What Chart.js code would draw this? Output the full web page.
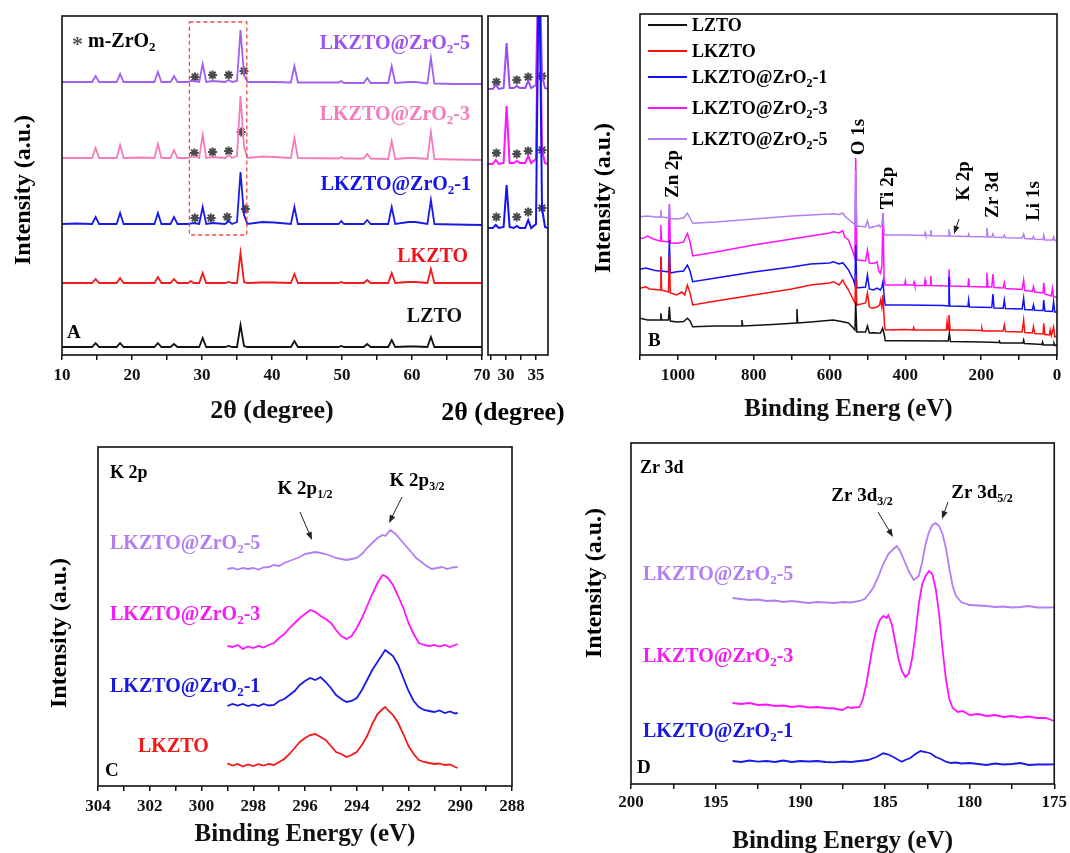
<!DOCTYPE html>
<html><head><meta charset="utf-8">
<script src="https://cdn.jsdelivr.net/npm/chart.js@4"></script>
<style>
html,body{margin:0;padding:0;background:#fff;}
#wrap{position:relative;width:1070px;height:853px;overflow:hidden;background:#fff;}
canvas{position:absolute;left:0;top:0;width:1070px;height:853px;}
</style></head><body><div id="wrap">
<canvas id="cA" width="1070" height="853"></canvas>
<canvas id="cI" width="1070" height="853"></canvas>
<canvas id="cB" width="1070" height="853"></canvas>
<canvas id="cC" width="1070" height="853"></canvas>
<canvas id="cD" width="1070" height="853"></canvas>
</div>
<script>
// ================= DATA =================
// Panel A : XRD (2θ, degree) — stacked patterns (offset included, a.u.)
const xrdTwoTheta = [10,12,14.3,14.8,15.3,17.8,18.3,18.8,21.5,23.2,23.7,24.2,25.5,26.0,26.5,28.0,28.4,28.8,29.6,30.1,30.6,31.5,33.3,33.8,34.3,35.0,35.5,36.0,36.5,38.6,40.3,42.7,43.2,43.7,49.5,49.9,50.3,53.1,53.6,54.1,56.6,57.1,57.6,59.5,60.5,62.2,62.7,63.2,66,70];
const xrdLZTO  = [8,8,8,12,8, 8,12,8,8,8, 12,8,8,11,8, 8,8,8,8,17, 8,8,8,9,8, 8,30,9,8,8, 8,8,14,8,8, 9,8,8,11,8, 8,15,8,8.5,8.5, 8,18,8,8,8];
const xrdLKZTO = [72,72,72,76,72, 72,77,72,72,72, 78,72,72,76,72, 72,74,72,72,82, 72,72,72,73,72, 72,102,73,72,72.5, 72.5,72,81,72,72, 73,72,72,75,72, 72,82,72,73,73, 72,86,72,72,72];
const xrdZr1   = [131,131.5,131,138,131, 131,142,131,131,131, 142,131,131,138,131, 131,131.5,132,131,148, 131,132,131,134,131, 133,183,140,131,133, 132.5,131,148,131,131, 134,131,131,135,131, 131,148,131,133,133, 131,155,131,130.5,130];
const xrdZr3   = [197,197,197,207,197, 197,210,197,197.5,197, 211,197,197,205,197, 197,198,199,197,220, 197,198,197,200,197, 199,259,208,197,198.5, 198,197,217,197,196.5, 198,196.5,196.5,201,196.5, 196,214,196,197,197, 196,223,196,195.5,195];
const xrdZr5   = [273,273,273,279,273, 273,281,273,273,273, 283,273,273,279,273, 273,274,274,273,291, 273,274,273,275,273, 274,325,280,273,273, 273,272.5,289,272.5,272.5, 274,272,272,277,272, 272,289,272,273,273, 271.5,297,271.5,271,271];
const starsA5 = [[29.0,278],[31.5,280],[33.8,280],[36.0,284]];
const starsA3 = [[28.9,202],[31.5,203],[33.8,204],[35.6,223]];
const starsA1 = [[29.0,137],[31.3,137],[33.6,138],[36.2,146]];
const zoomBoxA = [28.2, 36.4, 120, 333]; // x0, x1, y0, y1 (data units)
const ticksA = [10,15,20,25,30,35,40,45,50,55,60,65,70];
const labelsA = [10,20,30,40,50,60,70];

// Panel A inset (magnified 27–37°)
const insetTwoTheta = [27,27.8,28.3,28.8,29.6,30.1,30.6,31.3,31.8,32.3,33.2,33.7,34.2,35.0,35.5,36.0,36.5,37];
const insetZr5 = [266,266,270,266,267,312,267,267,269,267,267,274,267,270,420,280,267,266];
const insetZr3 = [191,191,195,191,192,249,192,192,194,192,192,199,192,196,420,205,192,191];
const insetZr1 = [127,127,130,127,128,170,128,127,129,127,127,135,127,131,420,147,128,127];
const starsI5 = [[28.4,273],[31.8,275],[33.7,278],[36.0,279]];
const starsI3 = [[28.4,202],[31.8,201],[33.7,204],[36.0,205]];
const starsI1 = [[28.4,138],[31.8,138],[33.7,143],[36.0,147]];
const ticksInset = [27.5,30,32.5,35];
const labelsInset = [30,35];

// Panel B : XPS survey (binding energy eV, intensity a.u. with offsets)
const surveyLZTO = [[1100,36.7],[1080,35],[1047,35],[1045,41.7],[1043,35],[1025,35],[1022.5,48.3],[1020,34],[1003,33],[985,33.5],[975,36.7],[968,34],[961,28.3],[900,29],[833,29],[831,35],[829,29],[750,30.5],[688,32],[686,46],[684,32],[650,33],[590,35],[565,33.3],[550,32],[537,26.7],[533,25],[531,53.3],[528,23],[505,23],[500,29],[495,22],[484,22.3],[466,21.7],[460,26.7],[456,21],[453,14.3],[400,14.3],[300,14],[287,14],[284,21.7],[281,13.5],[200,13],[154,12.5],[152,14],[150,12],[90,12],[88,15],[86,11.5],[60,11],[40,10.5],[38,13],[36,10],[10,10],[8,12],[5,9.5],[0,10]];
const surveyLKZTO = [[1100,66.7],[1085,68.3],[1075,66],[1047,65],[1045,98.3],[1043,65],[1025,63],[1022.5,100],[1020,62],[1003,60],[990,63],[982,60],[975,70],[968,62],[961,50],[900,54],[800,60],[700,66],[650,70],[600,72],[590,73.3],[575,70],[565,75],[560,71],[550,65],[537,55],[533,52],[531,80],[528,50],[505,52],[500,62],[495,48],[488,46.7],[475,48],[468,50],[465,55],[462,48],[459,60],[455,30],[453,25],[400,25.5],[380,25],[378,27.5],[376,25],[300,25],[292,25],[290,33.3],[287,25],[285,40],[282,25],[250,25],[200,24.5],[198,27],[196,24],[142,24],[139,30],[136,23.5],[92,23],[88,35],[85,22.5],[65,22],[62,28.3],[59,21.5],[37,21],[35,31.7],[32,20.5],[20,20],[18,25],[15,19.5],[9,28],[6,18],[0,19]];
const surveyZr1 = [[1100,85.7],[1085,87],[1060,84.5],[1047,84],[1045,98.3],[1043,84],[1025,83],[1022.5,115],[1020,82],[1003,83.3],[985,84],[975,90],[968,84],[961,73.3],[900,77],[800,83],[700,88],[650,91],[600,92],[590,93.3],[575,91],[565,92.3],[558,89],[550,85],[537,75],[533,70],[531,110],[528,67],[505,68],[500,80],[495,66],[484,65],[475,67],[466,65],[462,68],[459,73.3],[455,55],[453,50],[400,50],[300,49.5],[287,49],[285,78.3],[283,50],[282,49],[235,48.5],[233,55],[231,48],[172,47.5],[169,61],[166,47],[142,46.8],[139,55],[136,46.5],[92,46],[88,56.7],[85,45.5],[65,45],[62,50],[59,44.8],[37,44.5],[35,55],[32,44],[12,43.5],[9,53],[6,43],[0,43]];
const surveyZr3 = [[1100,116.7],[1090,117],[1080,119],[1065,116],[1047,114],[1045,130],[1043,114],[1025,113],[1022.5,151],[1020,112],[1003,111.7],[985,113],[975,121.7],[968,113],[961,99],[900,103],[800,110],[700,116],[650,119],[600,122],[590,123.3],[575,122],[565,124.3],[560,118],[550,115],[537,101.7],[533,97],[531,197],[528,95],[524,95],[505,94],[500,105],[495,92],[488,91.7],[480,92],[475,93.3],[470,84],[466,81.7],[462,88],[459,142],[456,75],[453,70],[402,70],[400,74],[398,70],[379,70],[377,73],[375,69.5],[350,69.5],[348,75],[346,69.5],[335,69.5],[333,79],[331,69.5],[287,69],[285,85.7],[282,69],[235,68.5],[233,76.7],[231,68.5],[187,68],[185,82.3],[182,68],[172,68],[169,81],[166,67.5],[142,67],[139,72.3],[136,66.5],[92,65.5],[88,75],[85,64.5],[65,63.5],[62,68.3],[59,63],[37,62],[35,72.3],[32,61],[15,59],[12,66.7],[9,58],[0,58]];
const surveyZr5 = [[1100,138.3],[1080,139],[1060,138],[1047,138],[1045,145],[1043,138],[1025,137],[1022.5,149],[1020,136.5],[1003,136],[985,137],[975,141.7],[968,137],[961,131.7],[900,133],[800,136],[700,139],[600,141],[590,141.3],[575,140.5],[565,142],[560,139],[545,134],[537,131.7],[533,130],[531,185],[528,128],[524,129],[505,128],[500,134.3],[495,127],[484,128.3],[475,129],[470,130],[466,128],[462,130],[459,141.7],[456,122],[453,120],[400,120],[350,119.5],[348,122.3],[346,119.5],[335,119.5],[333,125],[331,119.3],[287,119],[285,125.7],[282,119],[235,118.5],[233,121],[231,118.5],[187,118.3],[185,127.3],[182,118],[172,118],[169,121],[166,117.7],[142,117.5],[139,120],[136,117.3],[92,117],[88,121],[85,116.5],[65,116],[62,118.5],[59,115.7],[37,115.5],[35,120],[32,115],[12,115],[9,118],[6,114.5],[0,115]];
const ticksB = [1100,1000,900,800,700,600,500,400,300,200,100,0];
const labelsB = [1000,800,600,400,200,0];

// Panel C : K 2p
const k2pLKZTO = [[299.0,22.7],[298.8,20.5],[298.6,22],[298.4,19.5],[298.2,21.5],[298.0,20],[297.8,21.8],[297.6,20.5],[297.4,22],[297.2,21],[297.0,24],[296.8,27],[296.6,32],[296.4,38],[296.2,44],[296.0,48],[295.8,51],[295.6,52],[295.4,49],[295.2,46],[295.0,40],[294.8,34],[294.6,32],[294.4,29],[294.2,31],[294.0,34],[293.8,41],[293.6,50],[293.4,62],[293.2,72],[293.0,77],[292.9,79],[292.8,76],[292.6,71],[292.4,63],[292.2,52],[292.0,40],[291.8,32],[291.6,26],[291.4,24],[291.2,23],[291.0,22],[290.8,22.5],[290.6,21],[290.4,21.5],[290.2,19],[290.1,18]];
const k2pZr1 = [[299.0,80],[298.8,82],[298.6,80.5],[298.4,82],[298.2,80],[298.0,81.5],[297.8,80],[297.6,82],[297.4,80.5],[297.2,81],[297.0,85],[296.8,87],[296.6,91],[296.4,95],[296.2,101],[296.0,105],[295.8,108],[295.6,106],[295.4,109],[295.2,104],[295.0,98],[294.8,91],[294.6,87],[294.4,84],[294.2,85],[294.0,88],[293.8,96],[293.6,106],[293.4,116],[293.2,124],[293.0,132],[292.9,136],[292.8,134],[292.6,130],[292.4,121],[292.2,108],[292.0,95],[291.8,85],[291.6,79],[291.4,76],[291.2,75],[291.0,74],[290.8,75.5],[290.6,73],[290.4,74.5],[290.2,72.5],[290.1,73]];
const k2pZr3 = [[299.0,140],[298.8,139],[298.6,141],[298.4,137],[298.2,139.5],[298.0,138],[297.8,140],[297.6,138.5],[297.4,141],[297.2,143],[297.0,148],[296.8,152],[296.6,158],[296.4,163],[296.2,168],[296.0,172],[295.8,176],[295.6,174],[295.4,170],[295.2,167],[295.0,163],[294.8,156],[294.6,150],[294.4,147],[294.2,150],[294.0,158],[293.8,168],[293.6,180],[293.4,192],[293.2,203],[293.0,211],[292.9,210],[292.8,208],[292.6,201],[292.4,190],[292.2,178],[292.0,163],[291.8,152],[291.6,143],[291.4,141],[291.2,140],[291.0,141],[290.8,139.5],[290.6,141],[290.4,139],[290.2,141],[290.1,142]];
const k2pZr5 = [[299.0,217],[298.8,218],[298.6,216.5],[298.4,218],[298.2,217],[298.0,218],[297.8,216.5],[297.6,218.5],[297.4,219],[297.2,221],[297.0,220],[296.8,223],[296.6,225],[296.4,227],[296.2,229],[296.0,232],[295.8,233],[295.6,234],[295.4,233],[295.2,232],[295.0,230],[294.8,228],[294.6,227],[294.4,226],[294.2,227],[294.0,228],[293.8,232],[293.6,238],[293.4,243],[293.2,248],[293.0,251],[292.9,250],[292.7,256],[292.5,252],[292.3,246],[292.1,240],[291.9,234],[291.7,228],[291.5,224],[291.3,220],[291.1,217],[290.9,218],[290.7,219],[290.5,217],[290.3,218.5],[290.1,219]];
const ticksC = [304,303,302,301,300,299,298,297,296,295,294,293,292,291,290,289,288];
const labelsC = [304,302,300,298,296,294,292,290,288];

// Panel D : Zr 3d
const zr3dZr1 = [[194.0,23],[193.5,22],[193,23.5],[192.5,22.3],[192,23],[191.5,22],[191,23.5],[190.5,22],[190,23],[189.5,22.5],[189,23],[188.5,22],[188,21.7],[187.5,22.5],[187,22],[186.5,23],[186,24],[185.5,27],[185.1,30.7],[184.8,29.5],[184.5,27],[184.2,24],[184.0,22.3],[183.8,24],[183.5,26],[183.2,30],[182.9,33],[182.6,32],[182.3,30.5],[182.0,27],[181.7,25],[181.4,22.3],[181.1,21],[180.8,21.5],[180.5,20.5],[180,21],[179.5,20],[179,19],[178.5,20.5],[178,19.5],[177.5,20],[177,21],[176.5,19],[176,19.5],[175.5,19.5],[175,19.7]];
const zr3dZr3 = [[194.0,81],[193.5,80],[193,81],[192.5,79],[192,79.5],[191.5,78],[191,78.5],[190.5,77],[190,78],[189.5,76.5],[189,77],[188.5,76],[188,75.5],[187.5,74],[187.2,77],[187,76],[186.5,77],[186.3,85],[186.1,100],[185.9,120],[185.7,140],[185.5,155],[185.3,164],[185.1,168],[184.9,166],[184.8,169],[184.6,160],[184.4,143],[184.2,125],[184.0,113],[183.8,107],[183.6,110],[183.4,125],[183.2,150],[183.0,180],[182.8,200],[182.6,208],[182.4,213],[182.2,210],[182.0,195],[181.8,170],[181.6,135],[181.4,105],[181.2,85],[181.0,76],[180.7,72],[180.4,73],[180,69],[179.5,70],[179,68],[178.5,69],[178,67],[177.5,68],[177,66.5],[176.5,67.5],[176,66],[175.5,66],[175,63]];
const zr3dZr5 = [[194.0,186],[193.5,185],[193,184],[192.5,184.5],[192,183],[191.5,183.5],[191,182],[190.5,183],[190,182],[189.5,181],[189,182],[188.5,181.5],[188,181],[187.5,182],[187,181.5],[186.5,183],[186.2,185],[186.0,189],[185.7,196],[185.4,207],[185.1,220],[184.8,230],[184.5,235],[184.3,238],[184.1,233],[183.9,225],[183.6,213],[183.3,204],[183.0,208],[182.8,222],[182.6,240],[182.4,252],[182.2,259],[182.0,261],[181.8,258],[181.6,250],[181.4,236],[181.2,216],[181.0,198],[180.8,188],[180.5,182],[180.0,179],[179.5,178.5],[179,178],[178.5,177],[178,177.5],[177.5,176.5],[177,177],[176.5,178],[176,176.5],[175.5,176.5],[175,176.7]];
const ticksD = [200,197.5,195,192.5,190,187.5,185,182.5,180,177.5,175];
const labelsD = [200,195,190,185,180,175];

const sampleNames = ['LZTO','LKZTO','LKZTO@ZrO_{2}-1','LKZTO@ZrO_{2}-3','LKZTO@ZrO_{2}-5'];

// ================= DRAWING =================
const W = 1070, H = 853;
const FONT = '"Liberation Serif", "Times New Roman", serif';

function parseRich(s){const parts=[];const re=/_\{([^}]*)\}/g;let last=0,m;while((m=re.exec(s))){if(m.index>last)parts.push({t:s.slice(last,m.index)});parts.push({t:m[1],sub:true});last=re.lastIndex;}if(last<s.length)parts.push({t:s.slice(last)});return parts;}

function drawRich(ctx,it){
  const size=it.size||20, subSize=Math.round(size*0.64);
  const fMain='bold '+size+'px '+FONT, fSub='bold '+subSize+'px '+FONT;
  const parts=parseRich(it.t);
  let w=0; const ws=parts.map(p=>{ctx.font=p.sub?fSub:fMain;const m=ctx.measureText(p.t).width;w+=m;return m;});
  ctx.save(); ctx.translate(it.x,it.y); if(it.rot) ctx.rotate(it.rot*Math.PI/180);
  let x0 = it.align==='right' ? -w : it.align==='center' ? -w/2 : 0;
  const base=size*0.33; ctx.textAlign='left'; ctx.textBaseline='alphabetic';
  parts.forEach((p,i)=>{ctx.font=p.sub?fSub:fMain;ctx.fillStyle=it.color||'#000';ctx.fillText(p.t,x0,p.sub?base+size*0.22:base);x0+=ws[i];});
  ctx.restore();
}
function drawArrow(ctx,a){
  const [x1,y1,x2,y2]=a; const ang=Math.atan2(y2-y1,x2-x1);
  ctx.save(); ctx.strokeStyle='#222'; ctx.fillStyle='#222'; ctx.lineWidth=1;
  ctx.beginPath(); ctx.moveTo(x1,y1); ctx.lineTo(x2-6*Math.cos(ang),y2-6*Math.sin(ang)); ctx.stroke();
  ctx.beginPath(); ctx.moveTo(x2,y2);
  ctx.lineTo(x2-8*Math.cos(ang)+3*Math.sin(ang), y2-8*Math.sin(ang)-3*Math.cos(ang));
  ctx.lineTo(x2-8*Math.cos(ang)-3*Math.sin(ang), y2-8*Math.sin(ang)+3*Math.cos(ang));
  ctx.closePath(); ctx.fill(); ctx.restore();
}
function overlay(notes){
  return {id:'overlay', afterDraw(chart){
    const ctx=chart.ctx, a=chart.chartArea;
    ctx.save(); ctx.strokeStyle='#111'; ctx.lineWidth=1.6; ctx.strokeRect(a.left,a.top,a.right-a.left,a.bottom-a.top); ctx.restore();
    notes.forEach(it=>{
      if(it.arrow) drawArrow(ctx,it.arrow);
      else if(it.line){ctx.save();ctx.strokeStyle=it.color;ctx.lineWidth=it.width||2;ctx.beginPath();ctx.moveTo(it.line[0],it.line[1]);ctx.lineTo(it.line[2],it.line[3]);ctx.stroke();ctx.restore();}
      else if(it.box){const xs=chart.scales.x, ys=chart.scales.y; const x0=xs.getPixelForValue(it.box[0]), x1=xs.getPixelForValue(it.box[1]), y0=ys.getPixelForValue(it.box[2]), y1=ys.getPixelForValue(it.box[3]);
        ctx.save();ctx.strokeStyle=it.color;ctx.lineWidth=1.3;ctx.setLineDash([4,3]);ctx.strokeRect(x0,y1,x1-x0,y0-y1);ctx.restore();}
      else drawRich(ctx,it);
    });
  }};
}
const toPts = (xs, ys) => xs.map((x,i)=>({x:x, y:ys[i]}));
const toXY = arr => arr.map(p=>({x:p[0], y:p[1]}));
function lineDS(data,color,w){return {data:data,borderColor:color,backgroundColor:color,borderWidth:w||1.8,pointRadius:0,fill:false,tension:0};}
function starDS(pts){return {data:toXY(pts),showLine:false,pointStyle:'star',pointRadius:4.5,pointBorderColor:'#4a4a4a',pointBackgroundColor:'#4a4a4a',pointBorderWidth:2,borderColor:'#4a4a4a'};}

function makeChart(id,o){
  const f=o.frame;
  const ts=o.titleSize||25, lh=ts*1.2/2;
  return new Chart(document.getElementById(id),{
    type:'line',
    data:{datasets:o.datasets},
    options:{
      responsive:false, animation:false, events:[],
      layout:{padding:{left:f.l, top:f.t, right:W-f.r, bottom:H-o.titleY-lh}},
      plugins:{legend:{display:false}, tooltip:{enabled:false}},
      scales:{
        x:{type:'linear', min:o.xMin, max:o.xMax, reverse:!!o.reverse,
          afterBuildTicks:s=>{s.ticks=o.ticks.map(v=>({value:v}));},
          afterFit:s=>{s.height=o.titleY+lh-f.b;},
          grid:{drawOnChartArea:false, drawTicks:true, tickLength:5, tickWidth:1.5, tickColor:'#111', color:'#111', lineWidth:1.5},
          border:{display:false},
          ticks:{autoSkip:false, maxRotation:0, minRotation:0, padding:o.tickPad!=null?o.tickPad:5, color:'#111', font:{family:FONT,size:17,weight:'bold'},
            callback:v=>o.majors.includes(v)?String(v):''},
          title:{display:!!o.xTitle, text:o.xTitle||'', color:'#111', padding:0, font:{family:FONT,size:ts,weight:'bold'}}
        },
        y:{display:false, min:0, max:o.yMax}
      }
    },
    plugins:[overlay(o.notes)]
  });
}

// colours
const cBlack='#111111', cRed='#f21a1a', cBlue='#1a1ae6';
const cPinkA='#f47bbd', cPurpA='#a25ef2';
const cMag='#ff14ff', cLav='#b27ef1';

// ---- Panel A
makeChart('cA',{
  frame:{l:62,t:16,r:482,b:355}, titleY:411, titleSize:26, xMin:10, xMax:70, yMax:339,
  ticks:ticksA, majors:labelsA, xTitle:'2θ (degree)',
  datasets:[
    lineDS(toPts(xrdTwoTheta,xrdLZTO),cBlack),
    lineDS(toPts(xrdTwoTheta,xrdLKZTO),cRed),
    lineDS(toPts(xrdTwoTheta,xrdZr1),cBlue),
    lineDS(toPts(xrdTwoTheta,xrdZr3),cPinkA),
    lineDS(toPts(xrdTwoTheta,xrdZr5),cPurpA),
    starDS(starsA5), starDS(starsA3), starDS(starsA1)
  ],
  notes:[
    {box:zoomBoxA, color:'#ee4a4a'},
    {t:'*', x:72, y:44, size:22, color:'#555'},
    {t:'m-ZrO_{2}', x:88, y:40, size:20},
    {t:sampleNames[4], x:470, y:42, align:'right', color:'#9d52f0'},
    {t:sampleNames[3], x:470, y:113, align:'right', color:cPinkA},
    {t:sampleNames[2], x:471, y:183, align:'right', color:'#1414e6'},
    {t:sampleNames[1], x:468, y:255, align:'right', color:'#f0141e'},
    {t:sampleNames[0], x:462, y:315, align:'right', color:'#111'},
    {t:'A', x:67, y:332, size:19},
    {t:'Intensity (a.u.)', x:22, y:190, rot:-90, align:'center', size:24}
  ]
});
// ---- Panel A inset
makeChart('cI',{
  frame:{l:488,t:16,r:548,b:355}, titleY:411, xMin:27, xMax:37, yMax:339,
  ticks:ticksInset, majors:labelsInset, xTitle:'',
  datasets:[
    lineDS(toPts(insetTwoTheta,insetZr1),'#1414f0',2),
    lineDS(toPts(insetTwoTheta,insetZr3),cMag,2),
    lineDS(toPts(insetTwoTheta,insetZr5),'#9a4df0',2),
    starDS(starsI5), starDS(starsI3), starDS(starsI1)
  ],
  notes:[
    {t:'2θ (degree)', x:503, y:411, align:'center', size:26}
  ]
});
// ---- Panel B
makeChart('cB',{
  frame:{l:640,t:14,r:1057,b:355}, titleY:410, xMin:0, xMax:1100, reverse:true, yMax:341,
  ticks:ticksB, majors:labelsB, xTitle:'Binding Energ (eV)',
  datasets:[
    lineDS(toXY(surveyLZTO),cBlack,1.5),
    lineDS(toXY(surveyLKZTO),'#ff1010',1.5),
    lineDS(toXY(surveyZr1),'#1010ff',1.5),
    lineDS(toXY(surveyZr5),cLav,1.5),
    lineDS(toXY(surveyZr3),'#ff10ff',1.5)
  ],
  notes:[
    {line:[648,25,687,25], color:cBlack}, {t:sampleNames[0], x:692, y:25, size:18},
    {line:[648,51,687,51], color:'#ff1010'}, {t:sampleNames[1], x:692, y:51, size:18},
    {line:[648,77,687,77], color:'#1010ff'}, {t:sampleNames[2], x:692, y:77, size:18},
    {line:[648,108,687,108], color:'#ff10ff'}, {t:sampleNames[3], x:692, y:108, size:18},
    {line:[648,139,687,139], color:cLav}, {t:sampleNames[4], x:692, y:139, size:18},
    {t:'Zn 2p', x:672, y:174, rot:-90, align:'center', size:19},
    {t:'O 1s', x:858, y:137, rot:-90, align:'center', size:19},
    {t:'Ti 2p', x:887, y:188, rot:-90, align:'center', size:19},
    {t:'K 2p', x:963, y:181, rot:-90, align:'center', size:19},
    {t:'Zr 3d', x:992, y:195, rot:-90, align:'center', size:19},
    {t:'Li 1s', x:1033, y:201, rot:-90, align:'center', size:19},
    {arrow:[959,219,954,234]},
    {t:'B', x:648, y:340, size:19},
    {t:'Intensity (a.u.)', x:602, y:198, rot:-90, align:'center', size:24}
  ]
});
// ---- Panel C
makeChart('cC',{
  frame:{l:98,t:447,r:512,b:786}, titleY:835, xMin:288, xMax:304, reverse:true, yMax:339,
  ticks:ticksC, majors:labelsC, xTitle:'Binding Energy (eV)',
  datasets:[
    lineDS(toXY(k2pLKZTO),cRed),
    lineDS(toXY(k2pZr1),cBlue),
    lineDS(toXY(k2pZr3),cMag),
    lineDS(toXY(k2pZr5),cLav)
  ],
  notes:[
    {t:'K 2p', x:110, y:472, size:18},
    {t:'K 2p_{1/2}', x:305, y:488, align:'center', size:19},
    {t:'K 2p_{3/2}', x:417, y:480, align:'center', size:19},
    {arrow:[300,512,312,540]},
    {arrow:[402,497,389,523]},
    {t:sampleNames[4], x:110, y:542, color:cLav},
    {t:sampleNames[3], x:110, y:613, color:'#f01ef0'},
    {t:sampleNames[2], x:110, y:685, color:'#1818e0'},
    {t:sampleNames[1], x:138, y:745, color:'#f01818'},
    {t:'C', x:105, y:770, size:19},
    {t:'Intensity (a.u.)', x:58, y:633, rot:-90, align:'center', size:24}
  ]
});
// ---- Panel D
makeChart('cD',{
  frame:{l:631,t:443,r:1056,b:784}, titleY:842, xMin:175, xMax:200, reverse:true, yMax:341,
  ticks:ticksD, majors:labelsD, xTitle:'Binding Energy (eV)', tickPad:3,
  datasets:[
    lineDS(toXY(zr3dZr1),cBlue),
    lineDS(toXY(zr3dZr3),cMag),
    lineDS(toXY(zr3dZr5),cLav)
  ],
  notes:[
    {t:'Zr 3d', x:640, y:467, size:18},
    {t:'Zr 3d_{3/2}', x:862, y:495, align:'center', size:19},
    {t:'Zr 3d_{5/2}', x:982, y:492, align:'center', size:19},
    {arrow:[878,512,893,537]},
    {arrow:[948,502,942,519]},
    {t:sampleNames[4], x:643, y:573, color:cLav},
    {t:sampleNames[3], x:643, y:655, color:'#f01ef0'},
    {t:sampleNames[2], x:643, y:730, color:'#1818e0'},
    {t:'D', x:637, y:767, size:19},
    {t:'Intensity (a.u.)', x:593, y:583, rot:-90, align:'center', size:24}
  ]
});
</script>
</body></html>
